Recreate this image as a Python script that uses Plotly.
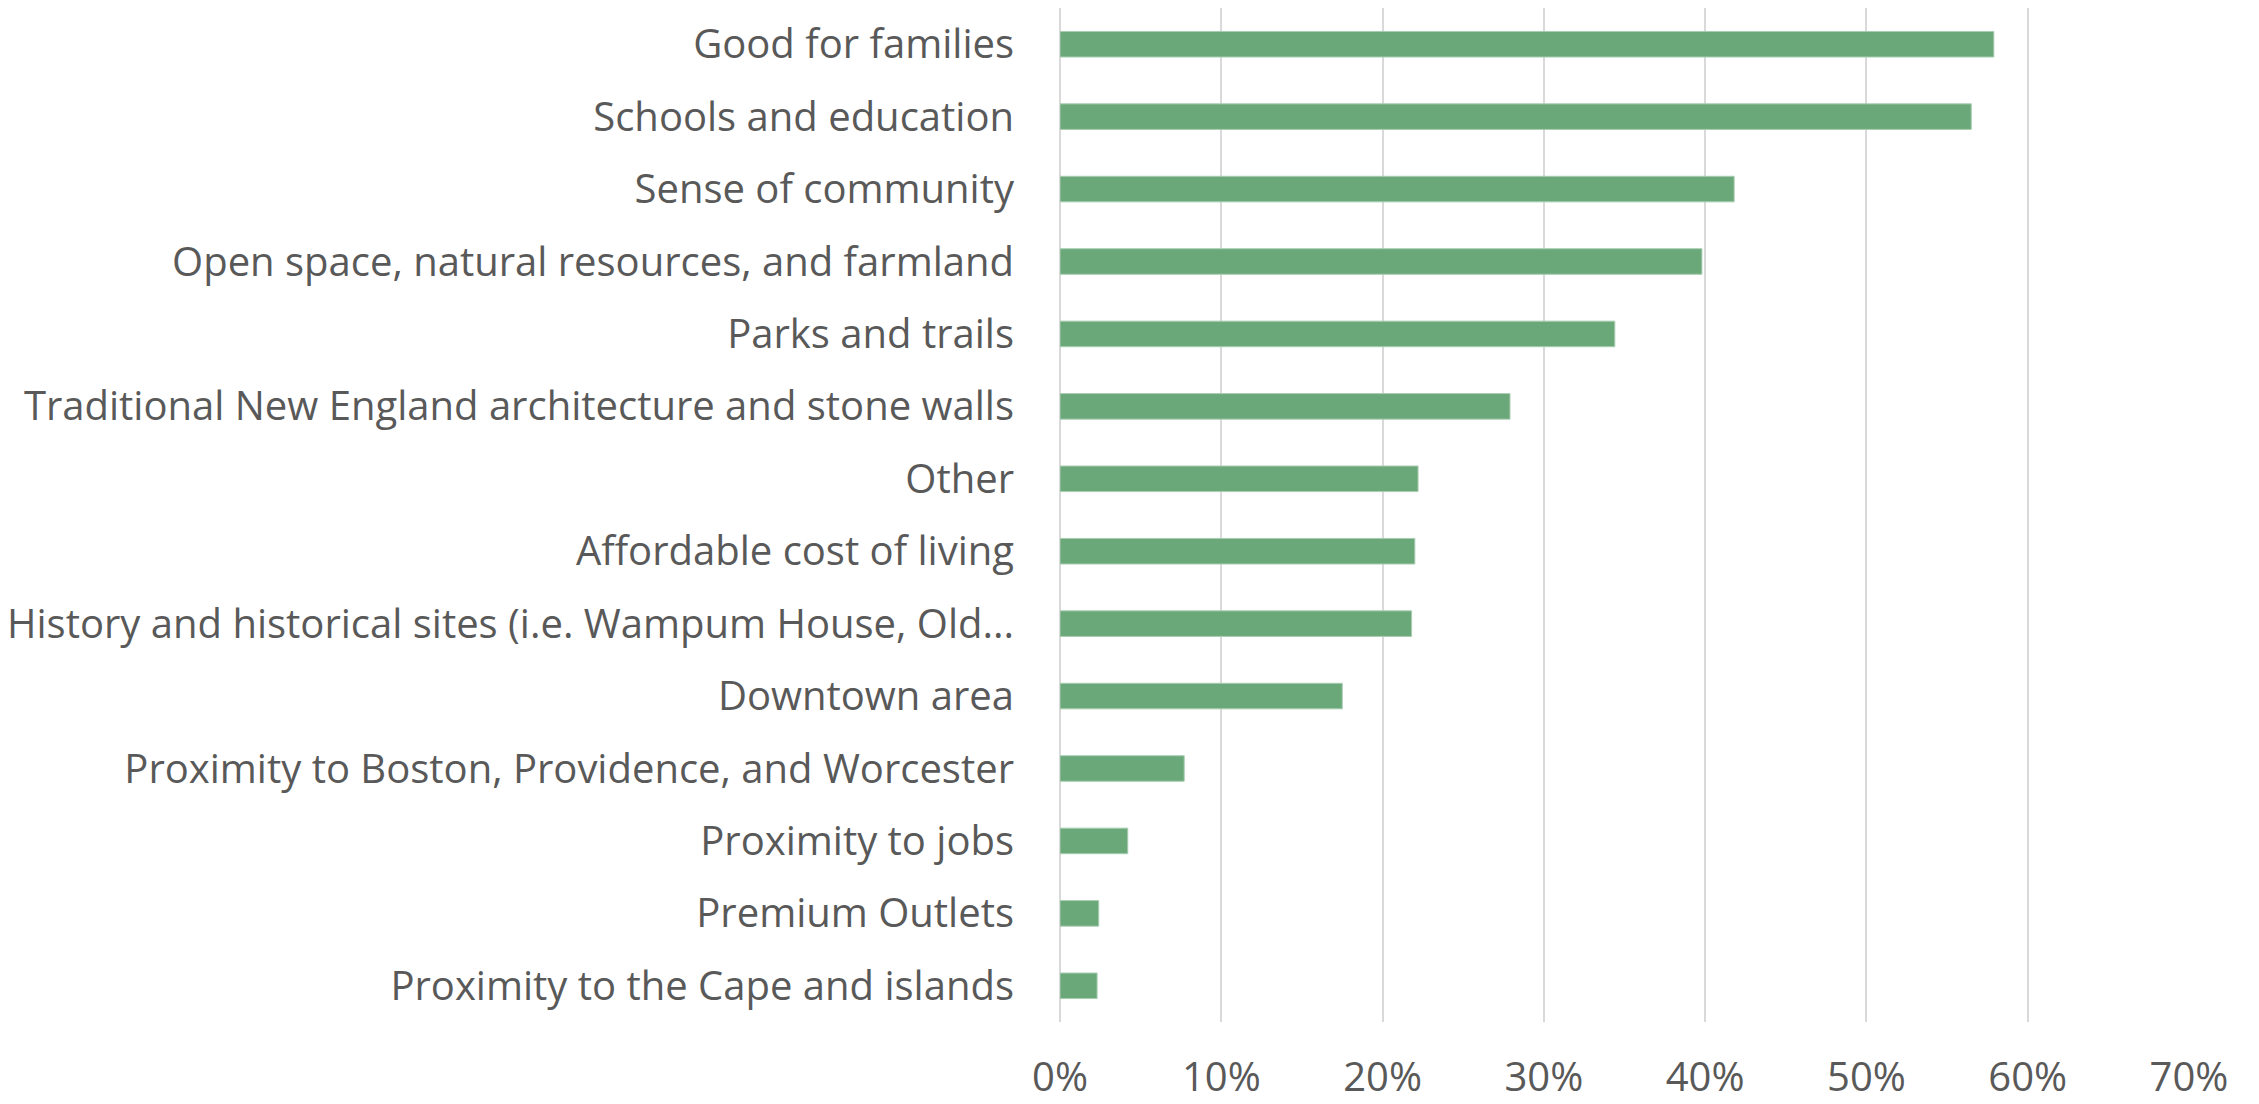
import plotly.graph_objects as go

categories = [
    "Good for families",
    "Schools and education",
    "Sense of community",
    "Open space, natural resources, and farmland",
    "Parks and trails",
    "Traditional New England architecture and stone walls",
    "Other",
    "Affordable cost of living",
    "History and historical sites (i.e. Wampum House, Old...",
    "Downtown area",
    "Proximity to Boston, Providence, and Worcester",
    "Proximity to jobs",
    "Premium Outlets",
    "Proximity to the Cape and islands",
]
values = [0.579, 0.565, 0.418, 0.398, 0.344, 0.279, 0.222, 0.220, 0.218, 0.175, 0.077, 0.042, 0.024, 0.023]
tick_vals = [0, 0.1, 0.2, 0.3, 0.4, 0.5, 0.6, 0.7]

text_color = "#595959"
grid_color = "#d9d9d9"
font_family = "Open Sans, Noto Sans, sans-serif"

fig = go.Figure(
    go.Bar(
        x=values,
        y=categories,
        orientation="h",
        marker=dict(color="#6aa87a", line=dict(color="#a9cdb2", width=1)),
        hoverinfo="x+y",
    )
)

# the page body adds an 8 px offset, so the figure is sized to the visible area
fig.update_layout(
    width=2251,
    height=1096,
    margin=dict(l=1052, r=70, t=0, b=82),
    plot_bgcolor="white",
    paper_bgcolor="white",
    bargap=0.647,
    showlegend=False,
    font=dict(family=font_family, size=40, color=text_color),
)
fig.update_xaxes(
    range=[0, 0.7],
    tickvals=tick_vals,
    tickformat=".0%",
    showgrid=True,
    gridcolor=grid_color,
    gridwidth=2,
    zeroline=True,
    zerolinecolor=grid_color,
    zerolinewidth=2,
    showline=False,
    ticks="",
    automargin=False,
    ticklabelstandoff=28,
    tickfont=dict(family=font_family, size=40, color=text_color),
)
fig.update_yaxes(
    categoryorder="array",
    categoryarray=categories,
    autorange="reversed",
    showgrid=False,
    zeroline=False,
    showline=False,
    ticks="",
    automargin=False,
    ticklabelstandoff=45,
    tickfont=dict(family=font_family, size=40, color=text_color),
)

fig.write_html("out.html")
